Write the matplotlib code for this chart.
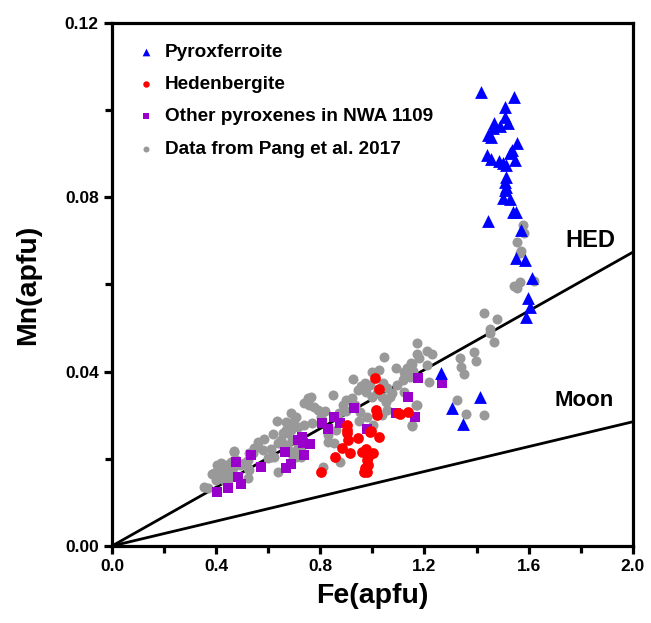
import numpy as np
import matplotlib
matplotlib.use("Agg")
import matplotlib.pyplot as plt
from matplotlib.ticker import MultipleLocator

plt.rcParams['font.family'] = ['Liberation Sans', 'DejaVu Sans']
plt.rcParams['font.weight'] = 'bold'

# ---- data (Fe, Mn in apfu) ----
pyroxferroite_fe = [1.418, 1.544, 1.51, 1.51, 1.52, 1.467, 1.49, 1.464, 1.444, 1.455,
                    1.555, 1.536, 1.529, 1.44, 1.455, 1.487, 1.502, 1.548, 1.513, 1.513,
                    1.51, 1.513, 1.51, 1.502, 1.529, 1.54, 1.552, 1.444, 1.571, 1.552,
                    1.586, 1.613, 1.598, 1.605, 1.59, 1.264, 1.414, 1.306, 1.349]
pyroxferroite_mn = [0.1041, 0.103, 0.1007, 0.0984, 0.097, 0.097, 0.0964, 0.0959, 0.0943, 0.0938,
                    0.0925, 0.0909, 0.0902, 0.0897, 0.0888, 0.0883, 0.0879, 0.0886, 0.0874, 0.0847,
                    0.0835, 0.0824, 0.0817, 0.0799, 0.0796, 0.0766, 0.0766, 0.0746, 0.0725, 0.0661,
                    0.0656, 0.0615, 0.0569, 0.0548, 0.0525, 0.0397, 0.0342, 0.0317, 0.028]

hedenbergite_fe = [1.011, 1.027, 1.015, 1.019, 0.992, 1.027, 1.107, 1.138, 0.904, 0.904,
                   0.904, 0.908, 0.943, 0.996, 0.885, 0.916, 0.858, 0.962, 0.977, 1.004,
                   0.985, 0.981, 0.985, 0.973, 0.981, 0.966, 0.801, 1.099]
hedenbergite_mn = [0.0385, 0.036, 0.0312, 0.03, 0.0262, 0.025, 0.0303, 0.0307, 0.0278, 0.0266,
                   0.0259, 0.0243, 0.0248, 0.0264, 0.0225, 0.0213, 0.0204, 0.0216, 0.0223, 0.0213,
                   0.0204, 0.0197, 0.0186, 0.0179, 0.017, 0.017, 0.017, 0.0305]

other_fe = [1.176, 1.268, 1.138, 1.165, 1.092, 0.931, 0.981, 0.854, 0.874, 0.805,
            0.828, 0.728, 0.762, 0.732, 0.739, 0.663, 0.402, 0.444, 0.494, 0.483,
            0.475, 0.533, 0.571, 0.686, 0.667, 0.716]
other_mn = [0.0385, 0.0374, 0.0342, 0.0296, 0.0305, 0.0317, 0.0268, 0.0296, 0.0282, 0.0282,
            0.0268, 0.025, 0.0234, 0.0236, 0.0209, 0.0216, 0.0124, 0.0133, 0.0142, 0.0158,
            0.0193, 0.0209, 0.0181, 0.0188, 0.0179, 0.0243]

pang_fe = [1.579, 1.582, 1.556, 1.571, 1.567, 1.567, 1.544, 1.556, 1.621, 1.429,
           1.479, 1.452, 1.452, 1.467, 1.391, 1.398, 1.337, 1.341, 1.352, 1.326,
           1.36, 1.429,
           1.172, 1.172, 1.21, 1.23, 1.18, 1.149, 1.21, 1.134, 1.157, 1.218,
           1.119, 1.172, 1.123, 1.153, 1.046, 1.153, 1.092, 1.138, 1.12,
           1.0, 1.027, 0.927, 0.958, 0.973, 0.992, 1.042, 1.057, 1.096, 1.123,
           1.146, 0.946, 0.977, 1.0, 1.019, 1.038, 1.054, 1.069, 1.077, 0.847,
           0.897, 0.923, 0.935, 0.889, 0.751, 0.766, 0.755, 0.774, 0.736, 0.686,
           0.705, 0.697, 0.667, 0.736, 0.77, 0.801, 0.954, 0.981, 1.004, 1.038,
           1.057, 1.153, 1.169, 0.828, 0.828, 0.851, 0.674, 0.693, 0.667, 0.705,
           0.724, 0.812, 0.877, 0.862, 0.87, 0.82, 0.79, 0.9, 0.95,
           0.632, 0.697, 0.713, 0.686, 0.667, 0.655, 0.648, 0.636, 0.655, 0.674,
           0.693, 0.705, 0.713, 0.559, 0.579, 0.544, 0.525, 0.506, 0.521, 0.525,
           0.521, 0.467, 0.418, 0.437, 0.41, 0.391, 0.398, 0.425, 0.448, 0.464,
           0.444, 0.352, 0.368, 0.636, 0.598, 0.621, 0.697, 0.724,
           0.421, 0.448, 0.429, 0.429, 0.444, 0.521, 0.54, 0.609, 0.456, 0.467,
           0.385, 0.402, 0.475, 0.49, 0.56, 0.585, 0.61, 0.62]
pang_mn = [0.0737, 0.0718, 0.0698, 0.0677, 0.0672, 0.0606, 0.0597, 0.0592, 0.0608, 0.0535,
           0.0521, 0.0498, 0.0489, 0.0468, 0.0445, 0.0425, 0.0431, 0.0411, 0.0395, 0.0335,
           0.0303, 0.0301,
           0.0466, 0.0441, 0.0447, 0.0441, 0.0431, 0.042, 0.0415, 0.0408, 0.0402, 0.0376,
           0.0381, 0.0324, 0.0353, 0.0275, 0.0434, 0.0418, 0.0408, 0.0393, 0.0399,
           0.0399, 0.0404, 0.0383, 0.0367, 0.0374, 0.0369, 0.0374, 0.0363, 0.0369, 0.0385,
           0.0388, 0.0358, 0.0353, 0.0342, 0.0351, 0.0342, 0.033, 0.0342, 0.0351, 0.0346,
           0.0335, 0.034, 0.0324, 0.0324, 0.034, 0.0342, 0.0324, 0.0319, 0.0328, 0.0305,
           0.0296, 0.0282, 0.0285, 0.0278, 0.0282, 0.0296, 0.0307, 0.0296, 0.0278, 0.0301,
           0.0312, 0.0278, 0.0324, 0.0255, 0.0239, 0.0236, 0.0259, 0.0243, 0.0232, 0.0209,
           0.0227, 0.0181, 0.0193, 0.0266, 0.0305, 0.031, 0.0312, 0.031, 0.0286,
           0.0287, 0.0285, 0.0273, 0.0266, 0.0266, 0.0259, 0.0243, 0.0236, 0.0232, 0.0227,
           0.0216, 0.0204, 0.0227, 0.0239, 0.022, 0.0225, 0.0213, 0.019, 0.0197, 0.0174,
           0.0156, 0.0216, 0.019, 0.0186, 0.0179, 0.0168, 0.0152, 0.0158, 0.0168, 0.0179,
           0.0152, 0.0135, 0.0133, 0.017, 0.0202, 0.0204, 0.0204, 0.0204,
           0.017, 0.0168, 0.0151, 0.017, 0.0163, 0.0179, 0.0213, 0.0204, 0.0193, 0.0218,
           0.0165, 0.0186, 0.0197, 0.0186, 0.0228, 0.0246, 0.0222, 0.0257]

# reference lines: Mn = slope * Fe
hed_slope = 0.0337
moon_slope = 0.01425
line_fe = np.array([0.0, 2.0])

# ---- plot ----
fig = plt.figure(figsize=(6.51, 6.23), dpi=100)
ax = fig.add_axes([0.172, 0.1236, 0.8, 0.8395])

ax.plot(line_fe, hed_slope * line_fe, color='black', lw=2.0, zorder=1)
ax.plot(line_fe, moon_slope * line_fe, color='black', lw=2.0, zorder=1)

ax.scatter(pang_fe, pang_mn, s=52, marker='o', color='#999999', lw=0,
           label='Data from Pang et al. 2017', zorder=2)
ax.scatter(other_fe, other_mn, s=62, marker='s', color='#9900CC', lw=0,
           label='Other pyroxenes in NWA 1109', zorder=3)
ax.scatter(hedenbergite_fe, hedenbergite_mn, s=60, marker='o', color='#FF0000', lw=0,
           label='Hedenbergite', zorder=4)
ax.scatter(pyroxferroite_fe, pyroxferroite_mn, s=85, marker='^', color='#0000FF', lw=0,
           label='Pyroxferroite', zorder=5)

ax.text(1.74, 0.0702, 'HED', fontsize=17, fontweight='bold', va='center')
ax.text(1.70, 0.0333, 'Moon', fontsize=16, fontweight='bold', va='center')

ax.set_xlim(0, 2.0)
ax.set_ylim(0, 0.12)
ax.xaxis.set_major_locator(MultipleLocator(0.4))
ax.xaxis.set_minor_locator(MultipleLocator(0.2))
ax.yaxis.set_major_locator(MultipleLocator(0.04))
ax.yaxis.set_minor_locator(MultipleLocator(0.02))
ax.set_xticklabels([f'{v:.1f}' for v in ax.get_xticks()])
ax.set_yticklabels([f'{v:.2f}' for v in ax.get_yticks()])

for sp in ax.spines.values():
    sp.set_linewidth(2.3)
ax.tick_params(which='major', direction='out', length=6, width=2.3, labelsize=12.5)
ax.tick_params(which='minor', direction='out', length=5, width=2.3)
for lab in ax.get_xticklabels() + ax.get_yticklabels():
    lab.set_fontweight('bold')

ax.set_xlabel('Fe(apfu)', fontsize=20.5, fontweight='bold', labelpad=6)
ax.set_ylabel('Mn(apfu)', fontsize=20.5, fontweight='bold', labelpad=17)

handles, labels = ax.get_legend_handles_labels()
order = [3, 2, 1, 0]
leg = ax.legend([handles[i] for i in order], [labels[i] for i in order],
                loc='upper left', bbox_to_anchor=(0.01, 0.993), frameon=False,
                markerscale=0.6, handlelength=1.2, handletextpad=0.4,
                labelspacing=0.78, prop={'size': 13.7, 'weight': 'bold'})

fig.savefig('out.png', dpi=100)
